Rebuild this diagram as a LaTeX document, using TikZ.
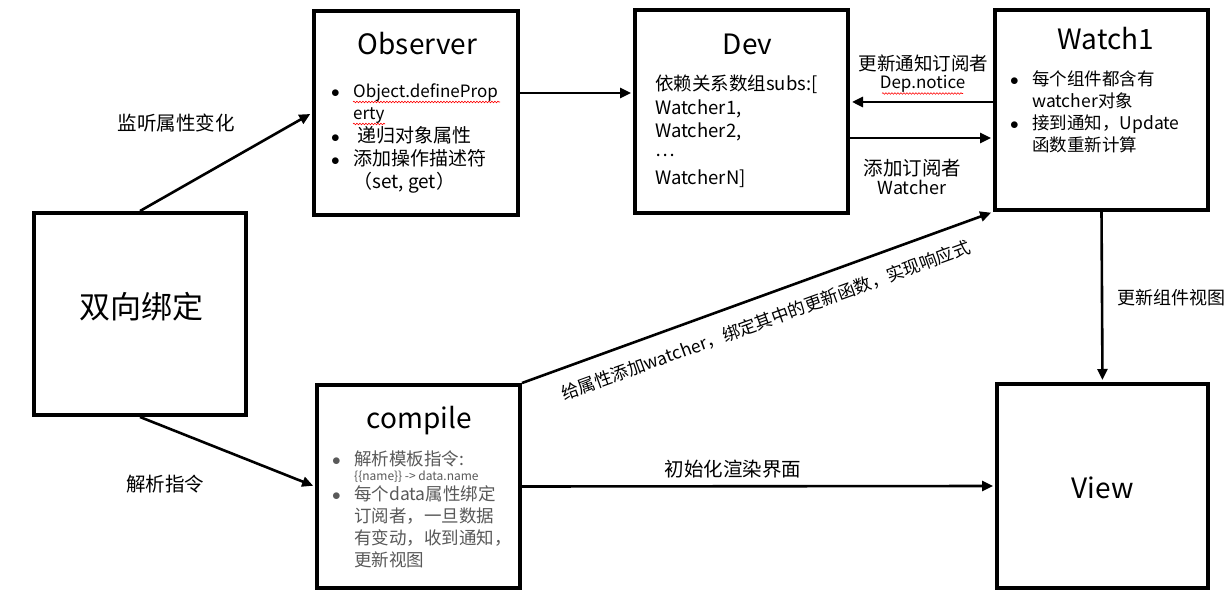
\documentclass[tikz,border=0pt]{standalone}
\usepackage{fontspec}
\setmainfont{Noto Sans CJK SC}
\usetikzlibrary{arrows.meta,calc,decorations.pathmorphing}
\definecolor{graytxt}{RGB}{89,89,89}
\newcommand{\bul}{\makebox[22pt][l]{\fontsize{16}{16}\selectfont$\bullet$}}
\newcommand{\nob}{\hspace*{22pt}}
\tikzset{
  box/.style={draw=black, line width=4pt, rectangle, inner sep=0pt},
  arr/.style={line width=2.6pt, shorten >=2pt, -{Triangle[length=11pt,width=10pt]}},
  title/.style={font=\fontsize{28}{30}\selectfont, inner sep=0pt, anchor=base},
  lbl/.style={font=\fontsize{19}{22}\selectfont, inner sep=0pt, anchor=base},
  body/.style={inner sep=0pt, anchor=base west},
  squig/.style={draw=red, line width=0.6pt, decorate, decoration={snake, amplitude=0.8pt, segment length=3pt}}
}
\begin{document}
\begin{tikzpicture}[x=1pt,y=-1pt]
\useasboundingbox (0,0) rectangle (1231,601);
\fill[white] (0,0) rectangle (1231,601);

% boxes
\node[box, minimum width=212pt, minimum height=202pt] (bind) at (140,314) {};
\node[box, minimum width=204pt, minimum height=204pt] (obs) at (416,113) {};
\node[box, minimum width=213pt, minimum height=203pt] (dev) at (741.5,111.5) {};
\node[box, minimum width=213pt, minimum height=200pt] (wat) at (1101.5,110) {};
\node[box, minimum width=203pt, minimum height=203pt] (comp) at (418.5,486.5) {};
\node[box, minimum width=211pt, minimum height=204pt] (view) at (1102.5,486) {};

% titles
\node[title, font=\fontsize{31}{33}\selectfont] (tbind) at (141.5,319) {双向绑定};
\node[title] (tobs) at (417.5,55) {Observer};
\node[title] (tdev) at (747.5,55) {Dev};
\node[title] (twat) at (1106,50) {Watch1};
\node[title] (tcomp) at (419,428) {compile};
\node[title] (tview) at (1102.5,498) {View};

% bodies
\node[body, font=\fontsize{19}{22}\selectfont] (bobs) at (331,98) {\begin{tabular}[t]{@{}l@{}}
\bul {\fontsize{17}{22}\selectfont Object.defineProp}\\
\nob {\fontsize{17}{22}\selectfont erty}\\
\bul \ 递归对象属性\\
\bul 添加操作描述符\\
\nob （set, get）
\end{tabular}};
\draw[squig] (353,102) -- (500,102);
\draw[squig] (353,124) -- (385,124);

\node[body, font=\fontsize{18.5}{23.4}\selectfont] (bdev) at (655,91) {\begin{tabular}[t]{@{}l@{}}
依赖关系数组subs:[\\
Watcher1,\\
Watcher2,\\
\raisebox{5pt}{…}\\
WatcherN]
\end{tabular}};

\node[body, font=\fontsize{17.5}{22}\selectfont] (bwat) at (1010,86) {\begin{tabular}[t]{@{}l@{}}
\bul 每个组件都含有\\
\nob watcher对象\\
\bul 接到通知，Update\\
\nob 函数重新计算
\end{tabular}};

\node[body, font=\fontsize{17.5}{22}\selectfont, text=graytxt] (bcomp) at (332,465) {\begin{tabular}[t]{@{}l@{}}
\bul 解析模板指令:\\[-7pt]
\nob {\fontsize{12}{14}\selectfont \{\{name\}\} -> data.name}\\[-2pt]
\bul 每个data属性绑定\\
\nob 订阅者，一旦数据\\
\nob 有变动，收到通知，\\
\nob 更新视图
\end{tabular}};

% connectors
\draw[arr] (bind.north) -- (obs.west);
\draw[arr] (bind.south) -- (comp.west);
\draw[arr] ($(obs.east)+(0,-20)$) coordinate (o1) -- (o1 -| dev.west);
\draw[arr] ($(wat.west)+(0,-8)$) coordinate (w1) -- (w1 -| dev.east);
\draw[arr] ($(dev.east)+(0,26.5)$) coordinate (d1) -- (d1 -| wat.west);
\draw[arr] (comp.north east) -- node[sloped, pos=0.5, anchor=north, inner xsep=0pt, inner ysep=15pt, font=\fontsize{17.5}{20}\selectfont] (ldiag) {给属性添加watcher，绑定其中的更新函数，实现响应式} (wat.south west);
\draw[arr] (comp.east) -- (view.west);
\draw[arr] (wat.south) -- (view.north);

% labels
\node[lbl, font=\fontsize{19.5}{22}\selectfont] (l1) at (176,131) {监听属性变化};
\node[lbl, font=\fontsize{19.5}{22}\selectfont] (l2) at (165,491) {解析指令};
\node[lbl, font=\fontsize{18.5}{22}\selectfont] (l3) at (923.5,71) {更新通知订阅者};
\node[lbl, font=\fontsize{17}{20}\selectfont] (l4) at (922.5,89) {Dep.notice};
\draw[squig] (882,93.5) -- (963,93.5);
\node[lbl, font=\fontsize{19.5}{22}\selectfont] (l5) at (912.5,176) {添加订阅者};
\node[lbl, font=\fontsize{18}{22}\selectfont] (l6) at (912,195) {Watcher};
\node[lbl, font=\fontsize{19.5}{22}\selectfont] (l7) at (733,476) {初始化渲染界面};
\node[lbl, font=\fontsize{18}{22}\selectfont] (l8) at (1171.5,305) {更新组件视图};
\end{tikzpicture}
\end{document}
